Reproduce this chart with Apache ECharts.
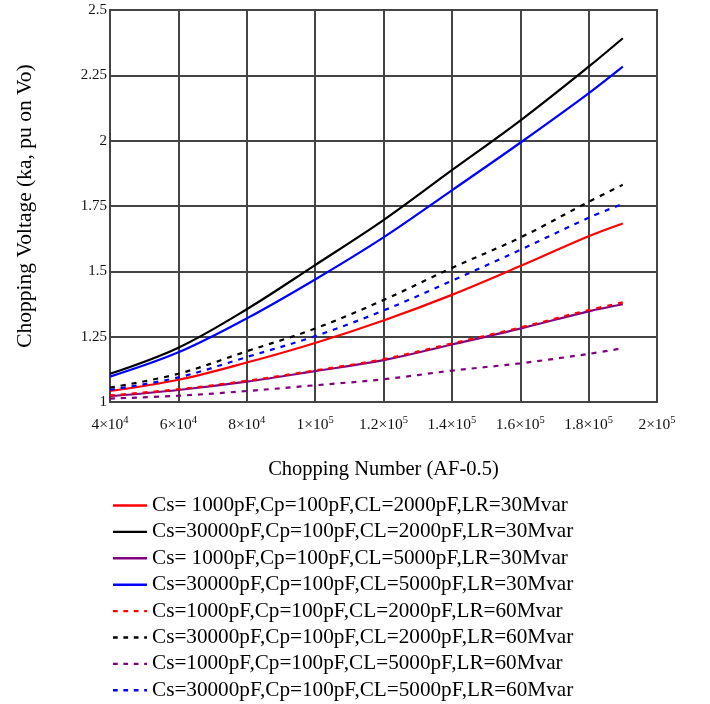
<!DOCTYPE html>
<html>
<head>
<meta charset="utf-8">
<script src="https://cdn.jsdelivr.net/npm/echarts@6/dist/echarts.min.js"></script>
<style>
html,body{margin:0;padding:0;background:#fff;}
#chart{width:710px;height:704px;}
</style>
</head>
<body>
<div id="chart"></div>
<script>
const xValues = [40000, 60000, 80000, 100000, 120000, 140000, 160000, 180000, 190000];

const seriesNames = [
  'Cs= 1000pF,Cp=100pF,CL=2000pF,LR=30Mvar',
  'Cs=30000pF,Cp=100pF,CL=2000pF,LR=30Mvar',
  'Cs= 1000pF,Cp=100pF,CL=5000pF,LR=30Mvar',
  'Cs=30000pF,Cp=100pF,CL=5000pF,LR=30Mvar',
  'Cs=1000pF,Cp=100pF,CL=2000pF,LR=60Mvar',
  'Cs=30000pF,Cp=100pF,CL=2000pF,LR=60Mvar',
  'Cs=1000pF,Cp=100pF,CL=5000pF,LR=60Mvar',
  'Cs=30000pF,Cp=100pF,CL=5000pF,LR=60Mvar'
];

const redSolid     = [1.042, 1.085, 1.151, 1.226, 1.312, 1.410, 1.520, 1.634, 1.683];
const blackSolid   = [1.108, 1.208, 1.355, 1.524, 1.696, 1.887, 2.077, 2.283, 2.392];
const purpleSolid  = [1.022, 1.046, 1.078, 1.118, 1.160, 1.220, 1.281, 1.347, 1.374];
const blueSolid    = [1.097, 1.190, 1.320, 1.469, 1.630, 1.810, 1.992, 2.181, 2.283];
const redDashed    = [1.025, 1.049, 1.081, 1.121, 1.164, 1.224, 1.285, 1.352, 1.381];
const blackDashed  = [1.055, 1.108, 1.194, 1.281, 1.390, 1.513, 1.629, 1.766, 1.831];
const purpleDashed = [1.013, 1.024, 1.042, 1.064, 1.087, 1.120, 1.148, 1.184, 1.206];
const blueDashed   = [1.047, 1.094, 1.172, 1.252, 1.350, 1.464, 1.582, 1.705, 1.758];

const seriesValues = [redSolid, blackSolid, purpleSolid, blueSolid, redDashed, blackDashed, purpleDashed, blueDashed];
const seriesColors = ['#ff0000', '#000000', '#800080', '#0000ff', '#ff0000', '#000000', '#800080', '#0000ff'];
const seriesDashed = [false, false, false, false, true, true, true, true];

const xTickLabels = {
  40000: ['4×10', '4'], 60000: ['6×10', '4'], 80000: ['8×10', '4'],
  100000: ['1×10', '5'], 120000: ['1.2×10', '5'], 140000: ['1.4×10', '5'],
  160000: ['1.6×10', '5'], 180000: ['1.8×10', '5'], 200000: ['2×10', '5']
};

const FONT = 'Liberation Serif';
const SOLID_ICON = 'path://M0,0H36V2.5H0Z';
const DASH_ICON = 'path://M0,0H5V2.5H0Z M11,0H16V2.5H11Z M22,0H27V2.5H22Z M33,0H36V2.5H33Z';

const chart = echarts.init(document.getElementById('chart'), null, {renderer: 'canvas'});

const series = seriesValues.map((vals, i) => ({
  name: seriesNames[i],
  type: 'line',
  data: xValues.map((x, j) => [x, vals[j]]),
  smooth: 0.35,
  symbol: 'none',
  lineStyle: {
    color: seriesColors[i],
    width: 2.2,
    type: seriesDashed[i] ? [5, 6] : 'solid'
  },
  itemStyle: {color: seriesColors[i]},
  z: 3
}));

chart.setOption({
  animation: false,
  backgroundColor: '#ffffff',
  grid: {
    left: 110, right: 53, top: 10, bottom: 302,
    show: true, borderColor: '#444', borderWidth: 2, backgroundColor: 'transparent'
  },
  xAxis: {
    type: 'value',
    min: 40000, max: 200000, interval: 20000,
    name: 'Chopping Number (AF-0.5)',
    nameLocation: 'middle',
    nameGap: 57,
    nameTextStyle: {fontFamily: FONT, fontSize: 20.5, color: '#000'},
    axisLine: {show: true, lineStyle: {color: '#444', width: 2}},
    axisTick: {show: false},
    splitLine: {show: true, lineStyle: {color: '#444', width: 2}},
    axisLabel: {
      margin: 13,
      formatter: function (v) {
        const t = xTickLabels[v];
        if (!t) return '';
        return '{b|' + t[0] + '}{s|' + t[1] + '}';
      },
      rich: {
        b: {fontFamily: FONT, fontSize: 15.5, color: '#111', lineHeight: 18, verticalAlign: 'bottom'},
        s: {fontFamily: FONT, fontSize: 10.5, color: '#111', lineHeight: 18, verticalAlign: 'top', padding: [0, 0, 8, 0]}
      }
    }
  },
  yAxis: {
    type: 'value',
    min: 1, max: 2.5, interval: 0.25,
    name: 'Chopping Voltage (ka, pu on Vo)',
    nameLocation: 'middle',
    nameGap: 74,
    nameTextStyle: {fontFamily: FONT, fontSize: 21.5, color: '#000'},
    axisLine: {show: true, lineStyle: {color: '#444', width: 2}},
    axisTick: {show: false},
    splitLine: {show: true, lineStyle: {color: '#444', width: 2}},
    axisLabel: {fontFamily: FONT, fontSize: 15, color: '#111', margin: 3}
  },
  legend: {
    show: true,
    orient: 'vertical',
    left: 113,
    top: 495,
    height: 212,
    padding: 0,
    itemWidth: 34,
    itemHeight: 20,
    itemGap: 5.4,
    itemTextGap: 7,
    textStyle: {fontFamily: FONT, fontSize: 21.2, color: '#000', lineHeight: 21},
    data: seriesNames.map((n, i) => ({
      name: n,
      icon: seriesDashed[i] ? DASH_ICON : SOLID_ICON,
      itemStyle: {color: seriesColors[i], borderWidth: 0}
    }))
  },
  series: series
});
</script>
</body>
</html>
